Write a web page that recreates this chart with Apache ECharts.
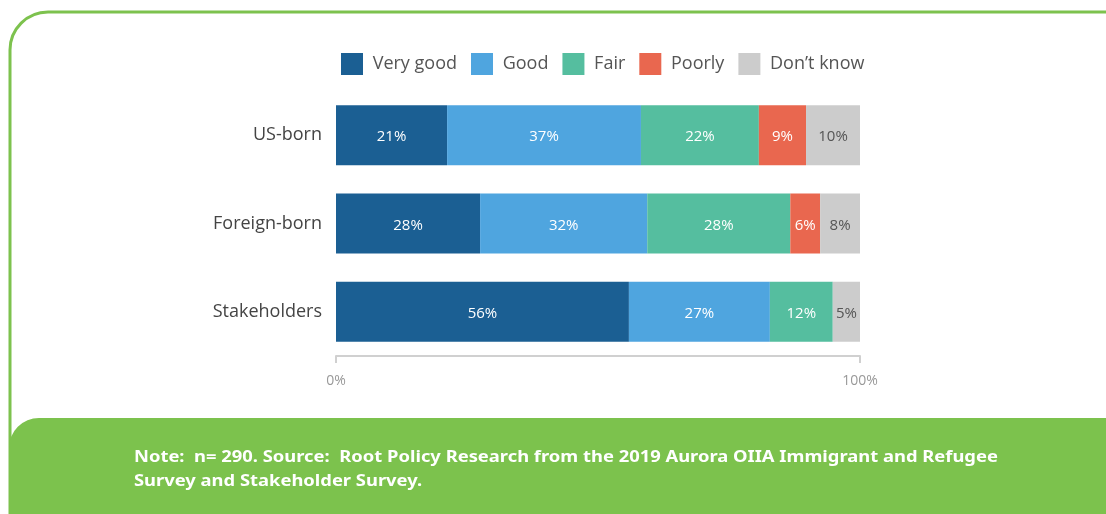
<!DOCTYPE html>
<html>
<head>
<meta charset="utf-8">
<script src="https://cdn.jsdelivr.net/npm/echarts@6/dist/echarts.min.js"></script>
<style>
  html, body { margin: 0; padding: 0; background: #fff; }
  #chart { width: 1106px; height: 514px; }
</style>
</head>
<body>
<div id="chart"></div>
<script>
const groups = ['US-born', 'Foreign-born', 'Stakeholders'];
const ratings = ['Very good', 'Good', 'Fair', 'Poorly', 'Don\u2019t know'];
const colors = ['#1b5f93', '#4fa5df', '#55be9f', '#e9674f', '#cccccc'];

// bar widths (percent of row)
const veryGood = [21.2, 27.5, 55.9];
const good = [37.0, 31.9, 26.9];
const fair = [22.5, 27.3, 12.0];
const poorly = [9.0, 5.7, null];
const dontKnow = [10.3, 7.6, 5.2];
// labels printed on the bars
const veryGoodLbl = [21, 28, 56];
const goodLbl = [37, 32, 27];
const fairLbl = [22, 28, 12];
const poorlyLbl = [9, 6, null];
const dontKnowLbl = [10, 8, 5];

const values = [veryGood, good, fair, poorly, dontKnow];
const labels = [veryGoodLbl, goodLbl, fairLbl, poorlyLbl, dontKnowLbl];

const chart = echarts.init(document.getElementById('chart'));
const font = '"Open Sans", sans-serif';

const option = {
    animation: false,
    textStyle: { fontFamily: font },
    graphic: [
        {
            type: 'rect',
            shape: { x: 10, y: 12, width: 1200, height: 600, r: [38, 0, 0, 0] },
            style: { fill: 'none', stroke: '#7dc24e', lineWidth: 3 },
            z: 0
        },
        {
            type: 'rect',
            shape: { x: 9, y: 418, width: 1200, height: 200, r: [30, 0, 0, 0] },
            style: { fill: '#7cc24d' },
            z: 1
        },
        {
            // note text, stretched a little to match the wide rounded face of the original
            type: 'text',
            x: 134,
            y: 445,
            scaleX: 1.148,
            style: {
                text: 'Note:  n= 290. Source:  Root Policy Research from the 2019 Aurora OIIA Immigrant and Refugee\nSurvey and Stakeholder Survey.',
                fill: '#fff',
                font: 'bold 16px "Noto Sans", sans-serif',
                lineHeight: 24,
                verticalAlign: 'top'
            },
            z: 2
        }
    ],
    legend: {
        data: ratings,
        left: 341,
        top: 53,
        padding: 0,
        itemWidth: 22,
        itemHeight: 22,
        itemGap: 14,
        icon: 'rect',
        formatter: function (name) { return ' ' + name; },
        textStyle: { color: '#555', fontSize: 18, fontFamily: font }
    },
    grid: {
        left: 336,
        right: 246,
        top: 91,
        bottom: 158,
        containLabel: false
    },
    xAxis: {
        type: 'value',
        min: 0,
        max: 100,
        interval: 100,
        splitLine: { show: false },
        axisLine: { show: true, lineStyle: { color: '#d0d0d0', width: 2 } },
        axisTick: { show: true, length: 7, lineStyle: { color: '#d0d0d0', width: 2 } },
        axisLabel: {
            color: '#999',
            fontSize: 14,
            margin: 18,
            formatter: function (v) { return v + '%'; }
        }
    },
    yAxis: {
        type: 'category',
        data: groups,
        inverse: true,
        axisLine: { show: false },
        axisTick: { show: false },
        axisLabel: { color: '#444', fontSize: 18, margin: 14 }
    },
    series: ratings.map(function (name, i) {
        return {
            name: name,
            type: 'bar',
            stack: 'total',
            barWidth: 60,
            itemStyle: { color: colors[i] },
            label: {
                show: true,
                position: 'inside',
                color: i === 4 ? '#555' : '#fff',
                fontSize: 15,
                offset: [0, 2],
                formatter: function (p) { return labels[i][p.dataIndex] + '%'; }
            },
            data: values[i]
        };
    })
};
chart.setOption(option);
</script>
</body>
</html>
